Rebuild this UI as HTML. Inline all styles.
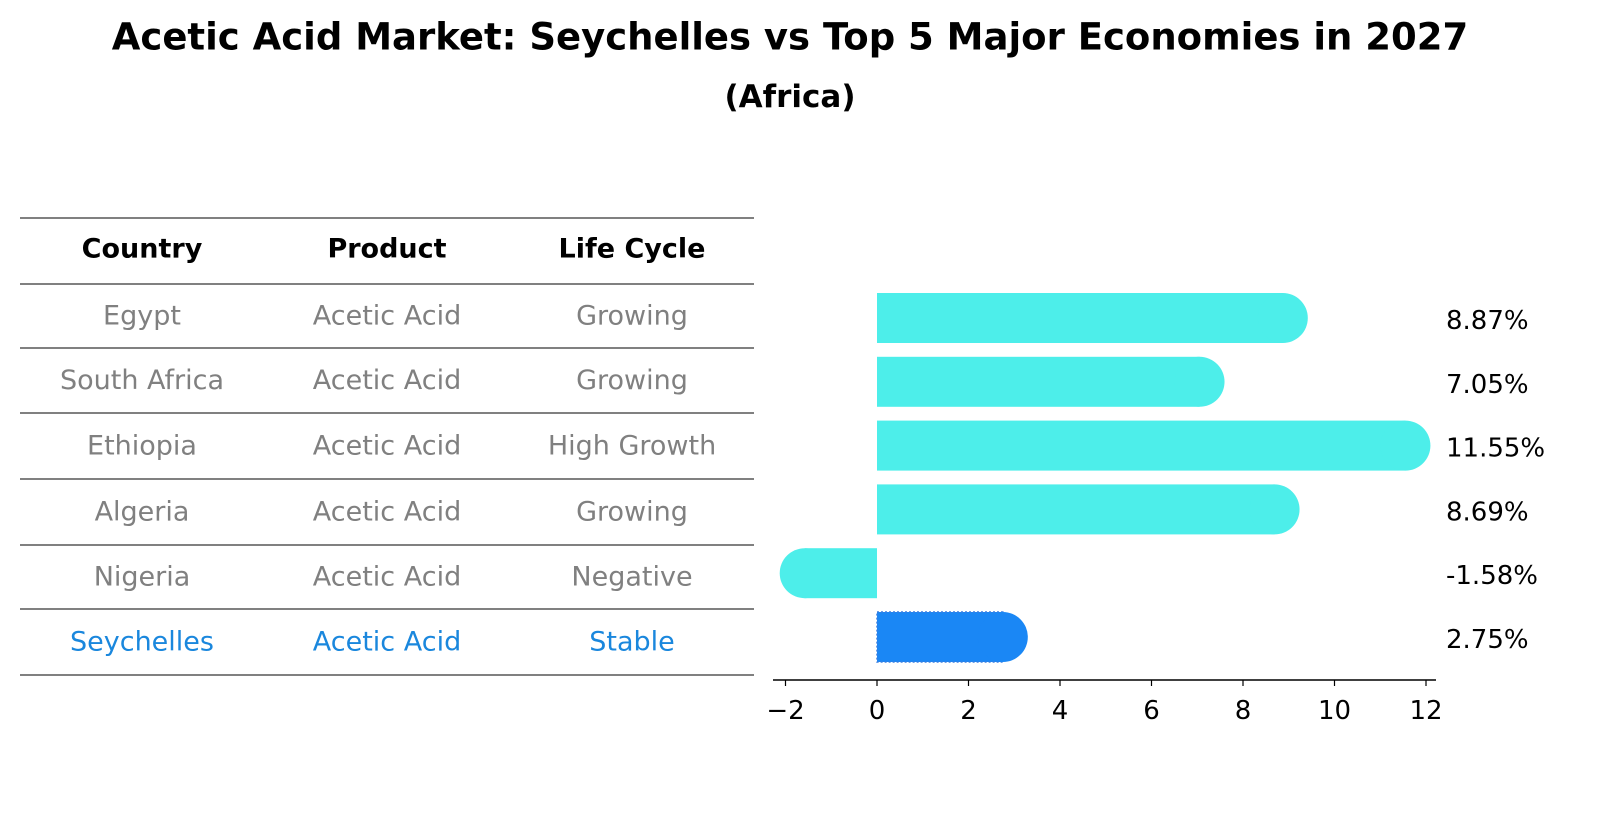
<!DOCTYPE html>
<html><head><meta charset="utf-8"><style>
body{margin:0;background:#fff;font-family:"Liberation Sans","DejaVu Sans",sans-serif;}
svg text{font-family:"DejaVu Sans","Liberation Sans",sans-serif;}
</style></head><body>
<svg id="chart" width="1604" height="823" viewBox="0 0 1604 823">
<text x="790" y="37" text-anchor="middle" dominant-baseline="central" font-size="37" font-weight="bold">Acetic Acid Market: Seychelles vs Top 5 Major Economies in 2027</text>
<text x="790" y="97" text-anchor="middle" dominant-baseline="central" font-size="31" font-weight="bold">(Africa)</text>
<g id="table"></g>
<g id="bars"></g>
</svg>
<script>
const countries=["Egypt","South Africa","Ethiopia","Algeria","Nigeria","Seychelles"];
const products=["Acetic Acid","Acetic Acid","Acetic Acid","Acetic Acid","Acetic Acid","Acetic Acid"];
const lifecycle=["Growing","Growing","High Growth","Growing","Negative","Stable"];
const growth=[8.87,7.05,11.55,8.69,-1.58,2.75];
const ticks=[-2,0,2,4,6,8,10,12];
const NS="http://www.w3.org/2000/svg";
function mk(tag,attrs,parent){const e=document.createElementNS(NS,tag);for(const k in attrs)e.setAttribute(k,attrs[k]);parent.appendChild(e);return e;}
const tbl=document.getElementById('table');
const lineYs=[218,284,348,413,479,545,609,675];
lineYs.forEach((y,i)=>{const l=mk('line',{x1:20,x2:754,y1:y,y2:y,stroke:'#000','stroke-width':1},tbl);

});
const colX=[142,387,632];
["Country","Product","Life Cycle"].forEach((h,i)=>{const t=mk('text',{x:colX[i],y:249,'text-anchor':'middle','dominant-baseline':'central','font-size':27,'font-weight':'bold'},tbl);t.textContent=h;

});
countries.forEach((c,r)=>{const y=(lineYs[r+1]+lineYs[r+2])/2;const col=r===5?'#1a87dd':'#808080';
[c,products[r],lifecycle[r]].forEach((v,i)=>{const t=mk('text',{x:colX[i],y:y,'text-anchor':'middle','dominant-baseline':'central','font-size':27,fill:col},tbl);t.textContent=v;

});});
const g=document.getElementById('bars');
const x0=877,scale=45.75;
const xs=v=>x0+v*scale;
const rowY=i=>318+i*63.8;
const h=50,r=25;
growth.forEach((v,i)=>{const cy=rowY(i);const sey=i===5;const fill=sey?'#1a87f5':'#4deeea';
const a=Math.min(xs(0),xs(v)),b=Math.max(xs(0),xs(v));
const grp=mk('g',{},g);


const ex=v>=0?b:a;
const attrs={fill:fill};if(sey){attrs.stroke='#3a7fe0';attrs['stroke-dasharray']='2,2';attrs['stroke-width']=1.5;}
mk('rect',Object.assign({x:a,y:cy-h/2,width:b-a,height:h},attrs),grp);
mk('circle',{cx:ex,cy:cy,r:r,fill:fill},grp);
const t=mk('text',{x:1446,y:cy+3,'dominant-baseline':'central','font-size':26},g);t.textContent=v.toFixed(2)+'%';

});
const ax=mk('line',{x1:773,x2:1436,y1:680,y2:680,stroke:'#000','stroke-width':1.5},g);


ticks.forEach(tv=>{const x=xs(tv);mk('line',{x1:x,x2:x,y1:680,y2:686,stroke:'#000','stroke-width':1.2},g);
const t=mk('text',{x:x,y:711,'text-anchor':'middle','dominant-baseline':'central','font-size':26},g);t.textContent=tv<0?'\u2212'+Math.abs(tv):String(tv);

});
</script>
</body></html>
